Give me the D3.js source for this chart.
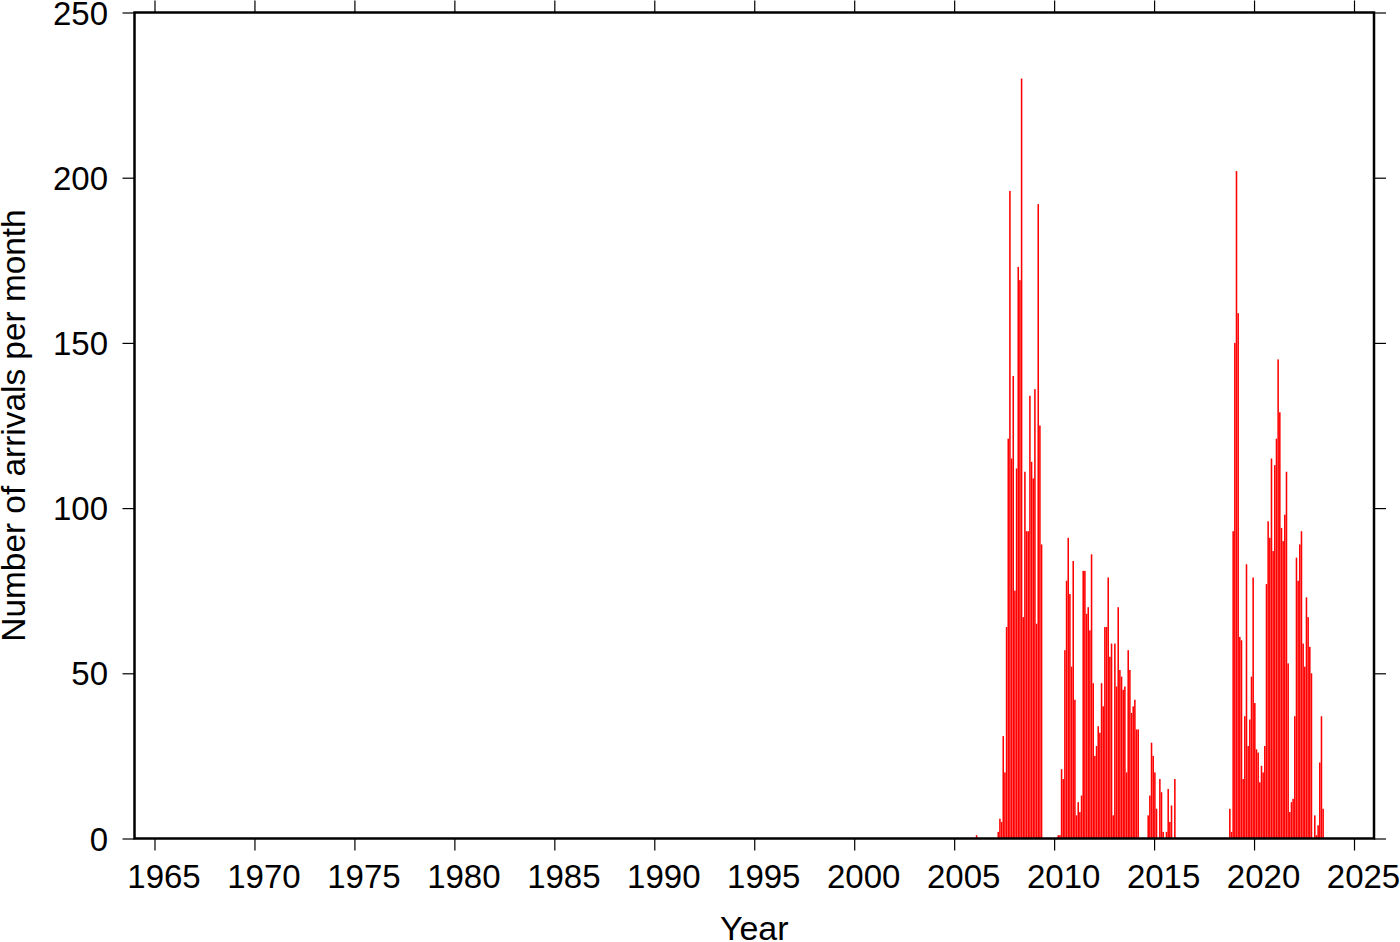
<!DOCTYPE html>
<html>
<head>
<meta charset="utf-8">
<script src="https://cdn.jsdelivr.net/npm/d3@7"></script>
<style>
  html, body { margin: 0; padding: 0; background: #fff; }
  svg text { font-family: "Liberation Sans", Arial, Helvetica, sans-serif; fill: #000; }
</style>
</head>
<body>
<svg id="chart" width="1400" height="942"></svg>
<script>
// ---- Data: monthly arrival counts, each run starting at the given year/month (1-12) ----
const run1Start = [2006, 2];
const run1Counts = [1];

const run2Start = [2007, 3];
const run2Counts = [2, 6, 5, 31, 20, 64, 121, 196, 115, 140,
                    75, 112, 173, 169, 230, 67, 111, 93, 93, 134, 114, 109,
                    136, 65, 192, 125, 89];

const run3Start = [2010, 3];
const run3Counts = [1, 1, 21, 18, 57, 78, 91, 74, 52, 84,
                    42, 7, 11, 8, 13, 81, 81, 68, 70, 63, 86, 47,
                    25, 28, 34, 32, 47, 40, 64, 64, 79, 55, 59, 7,
                    59, 46, 70, 51, 49, 45, 46, 20, 57, 51, 38, 40,
                    42, 33, 33];

const run4Start = [2014, 9];
const run4Counts = [7, 13, 29, 25,
                    20, 9, 0, 18, 14, 2, 0, 2, 15, 5, 10, 0,
                    18];

const run5Start = [2018, 10];
const run5Counts = [9, 2, 93,
                    150, 202, 159, 61, 60, 18, 37, 83, 28, 36, 49, 79,
                    41, 27, 26, 17, 22, 20, 28, 77, 96, 91, 115, 87,
                    113, 121, 145, 129, 94, 90, 98, 111, 53, 8, 11, 12,
                    37, 85, 78, 89, 93, 59, 52, 73, 67, 58, 50, 0,
                    7, 1, 4, 23, 37, 9];

const xTickValues = [1965, 1970, 1975, 1980, 1985, 1990, 1995, 2000, 2005, 2010, 2015, 2020, 2025];
const yTickValues = [0, 50, 100, 150, 200, 250];
const xDomain = [1964, 2026];
const yDomain = [0, 250];
const xTitle = "Year";
const yTitle = "Number of arrivals per month";

// ---- Build month records ----
function expand(start, counts) {
  return counts.map((c, i) => {
    const mi = (start[1] - 1) + i;
    return { year: start[0] + Math.floor(mi / 12), month: mi % 12, count: c };
  });
}
const months = [].concat(
  expand(run1Start, run1Counts),
  expand(run2Start, run2Counts),
  expand(run3Start, run3Counts),
  expand(run4Start, run4Counts),
  expand(run5Start, run5Counts)
).filter(d => d.count > 0);

// ---- Layout ----
const L = 134.5, R = 1374, T = 12.5, B = 838.5;
const svg = d3.select("#chart");
svg.append("rect").attr("width", 1400).attr("height", 942).attr("fill", "#fff");

const x = d3.scaleLinear().domain(xDomain).range([L, R]);
const y = d3.scaleLinear().domain(yDomain).range([B, T]);

// bars
svg.append("g")
  .selectAll("rect")
  .data(months)
  .join("rect")
  .attr("x", d => x(d.year + d.month / 12))
  .attr("width", d => x(d.year + (d.month + 1) / 12) - x(d.year + d.month / 12) - 0.12)
  .attr("y", d => y(d.count))
  .attr("height", d => y(0) - y(d.count))
  .attr("fill", "#ff0000");

const fontSize = 33;
function styleAxis(g) {
  g.selectAll(".domain").remove();
  g.selectAll(".tick line").attr("stroke", "#000").attr("stroke-width", 1.2);
  g.selectAll(".tick text").attr("font-size", fontSize);
  g.attr("font-family", null);
}

// bottom
svg.append("g").attr("transform", `translate(0,${B})`)
  .call(d3.axisBottom(x).tickValues(xTickValues).tickFormat(d3.format("d"))
        .tickSize(12).tickSizeOuter(0).tickPadding(14))
  .call(styleAxis)
  .selectAll(".tick text").attr("dx", 9);
// top
svg.append("g").attr("transform", `translate(0,${T})`)
  .call(d3.axisTop(x).tickValues(xTickValues).tickFormat("")
        .tickSize(12).tickSizeOuter(0))
  .call(styleAxis);
// left
svg.append("g").attr("transform", `translate(${L},0)`)
  .call(d3.axisLeft(y).tickValues(yTickValues).tickFormat(d3.format("d"))
        .tickSize(12).tickSizeOuter(0).tickPadding(14.5))
  .call(styleAxis)
  .selectAll(".tick text").attr("dy", "0.35em");
// right
svg.append("g").attr("transform", `translate(${R},0)`)
  .call(d3.axisRight(y).tickValues(yTickValues).tickFormat("")
        .tickSize(12).tickSizeOuter(0))
  .call(styleAxis);

// frame
svg.append("rect")
  .attr("x", L).attr("y", T)
  .attr("width", R - L).attr("height", B - T)
  .attr("fill", "none").attr("stroke", "#000").attr("stroke-width", 2.5);

// titles
svg.append("text")
  .attr("x", (L + R) / 2).attr("y", 940)
  .attr("text-anchor", "middle").attr("font-size", 34)
  .text(xTitle);
svg.append("text")
  .attr("transform", `translate(25,${(T + B) / 2}) rotate(-90)`)
  .attr("text-anchor", "middle").attr("font-size", 33.4)
  .text(yTitle);
</script>
</body>
</html>
